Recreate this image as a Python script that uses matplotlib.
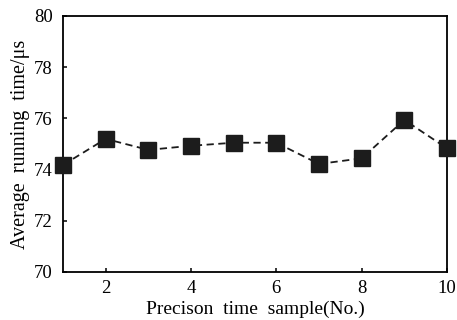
import matplotlib
matplotlib.use("Agg")
import matplotlib.pyplot as plt

samples = [1, 2, 3, 4, 5, 6, 7, 8, 9, 10]
run_time = [74.18, 75.2, 74.77, 74.93, 75.05, 75.05, 74.22, 74.44, 75.94, 74.83]

plt.rcParams['font.family'] = ['Liberation Serif', 'DejaVu Serif']

fig = plt.figure(figsize=(4.57, 3.2), dpi=100)
ax = fig.add_axes([63/457, 48/320, 384/457, 256/320])

ax.plot(samples, run_time, color='#1c1c1c', linestyle=(0, (4, 2.5)), linewidth=1.3,
        marker='s', markersize=12, markerfacecolor='#1c1c1c', markeredgecolor='#1c1c1c',
        clip_on=False, zorder=5)

ax.set_xlim(1, 10)
ax.set_ylim(70, 80)
ax.set_xticks([2, 4, 6, 8, 10])
ax.set_yticks([70, 72, 74, 76, 78, 80])
ax.tick_params(direction='in', length=3, width=1.1, labelsize=13.5)
ax.tick_params(axis='y', pad=7.5)
ax.tick_params(axis='x', pad=5.5)
for s in ax.spines.values():
    s.set_linewidth(1.3)

ax.set_xlabel('Precison  time  sample(No.)', fontsize=14, labelpad=3)
ax.set_ylabel('Average  running  time/\u03bcs', fontsize=14.5, labelpad=3)

fig.savefig('out.png', dpi=100)
